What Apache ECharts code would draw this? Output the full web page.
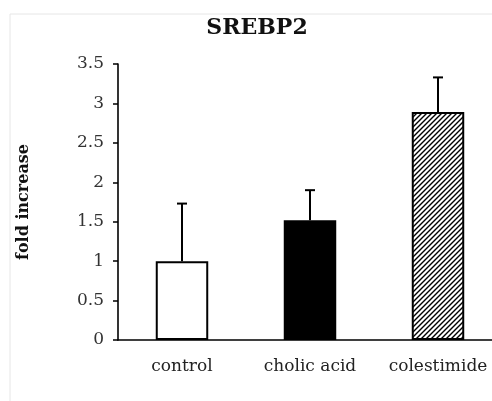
<!DOCTYPE html>
<html>
<head>
<meta charset="utf-8">
<script src="https://cdn.jsdelivr.net/npm/echarts@6/dist/echarts.min.js"></script>
<style>
  html, body { margin: 0; padding: 0; background: #fff; }
  #chart { width: 492px; height: 401px; }
</style>
</head>
<body>
<div id="chart"></div>
<script>
// data
var categories = ["control", "cholic acid", "colestimide"];
var means = [1.0, 1.52, 2.89];
var upper = [1.73, 1.9, 3.33];
var yTicks = [0, 0.5, 1, 1.5, 2, 2.5, 3, 3.5];

// hatch pattern for the third bar
function hatch() {
  var c = document.createElement("canvas");
  c.width = 5;
  c.height = 5;
  var g = c.getContext("2d");
  g.fillStyle = "#fff";
  g.fillRect(0, 0, 5, 5);
  g.strokeStyle = "#000";
  g.lineWidth = 1.4;
  g.beginPath();
  g.moveTo(0, 5); g.lineTo(5, 0);
  g.moveTo(-1, 1); g.lineTo(1, -1);
  g.moveTo(4, 6); g.lineTo(6, 4);
  g.stroke();
  return c;
}

var fills = ["#fff", "#000", { image: hatch(), repeat: "repeat" }];
var serif = "DejaVu Serif";

var myChart = echarts.init(document.getElementById("chart"));
var option = {
  animation: false,
  backgroundColor: "#fff",
  title: {
    text: "SREBP2",
    left: 252,
    textAlign: "center",
    top: 12,
    textStyle: { fontFamily: serif, fontWeight: "bold", fontSize: 22, color: "#111" }
  },
  graphic: [
    {
      type: "polyline",
      shape: { points: [[10, 401], [10, 14], [492, 14]] },
      style: { stroke: "#e6e6e6", lineWidth: 1, fill: null }
    }
  ],
  grid: { left: 118, top: 64, width: 384, bottom: 61, outerBoundsMode: "none", containLabel: false },
  xAxis: {
    type: "category",
    data: categories,
    axisLine: { lineStyle: { color: "#000", width: 1.6 } },
    axisTick: { length: 4, lineStyle: { color: "#000", width: 1.5 } },
    axisLabel: { interval: 0, margin: 18, fontFamily: serif, fontSize: 17, color: "#222", hideOverlap: false }
  },
  yAxis: {
    type: "value",
    min: 0,
    max: 3.5,
    interval: 0.5,
    name: "fold increase",
    nameLocation: "middle",
    nameGap: 86,
    nameTextStyle: { fontFamily: serif, fontWeight: "bold", fontSize: 16, color: "#111" },
    splitLine: { show: false },
    axisLine: { show: true, lineStyle: { color: "#000", width: 1.6 } },
    axisTick: { show: true, inside: false, length: 5, lineStyle: { color: "#000", width: 1.5 } },
    axisLabel: {
      margin: 14,
      fontFamily: serif,
      fontSize: 17,
      color: "#333",
      formatter: function (v) { return yTicks.indexOf(v) >= 0 ? String(v) : ""; }
    }
  },
  series: [
    {
      type: "bar",
      barWidth: "41%",
      data: means.map(function (v, i) {
        return { value: v, itemStyle: { color: fills[i], borderColor: "#000", borderWidth: 2 } };
      })
    },
    {
      type: "custom",
      z: 3,
      data: means.map(function (v, i) { return [i, v, upper[i]]; }),
      renderItem: function (params, api) {
        var lo = api.coord([api.value(0), api.value(1)]);
        var hi = api.coord([api.value(0), api.value(2)]);
        var st = { stroke: "#000", lineWidth: 2 };
        return {
          type: "group",
          children: [
            { type: "line", shape: { x1: lo[0], y1: lo[1], x2: hi[0], y2: hi[1] }, style: st },
            { type: "line", shape: { x1: hi[0] - 5, y1: hi[1], x2: hi[0] + 5, y2: hi[1] }, style: st }
          ]
        };
      }
    }
  ]
};
myChart.setOption(option);
</script>
</body>
</html>
